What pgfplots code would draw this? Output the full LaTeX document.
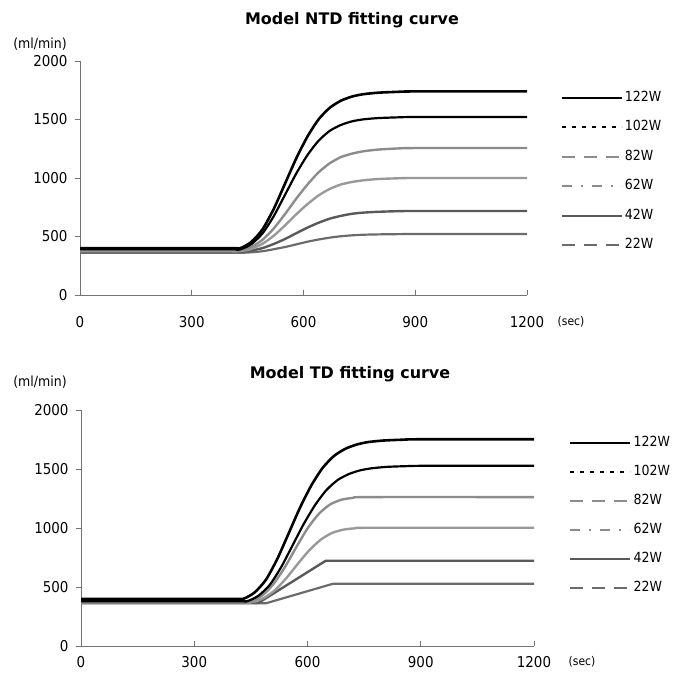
\documentclass[border=0pt]{standalone}
\usepackage{fontspec}
\setmainfont{DejaVu Sans Condensed}
\newfontfamily\titlefont{DejaVu Sans}
\usepackage{pgfplots}
\pgfplotsset{compat=1.18}
\pgfplotsset{
  base/.style={
    scale only axis,
    xmin=0, xmax=1200, ymin=0, ymax=2000,
    axis x line*=bottom, axis y line*=left,
    axis line style={black!55, line width=0.7pt},
    xtick={0,300,...,1200}, ytick={0,500,...,2000},
    xtick align=inside, ytick align=outside,
    major tick length=5bp,
    tick style={black!55, line width=0.7pt},
    /pgf/number format/assume math mode=true,
    /pgf/number format/1000 sep={},
    tick label style={font=\fontsize{15}{18}\selectfont},
    yticklabel style={xshift=-4bp},
    legend cell align=left,
    legend style={draw=none, fill=none, inner sep=0pt, column sep=0pt, row sep=16.5bp,
      font=\fontsize{14}{16}\selectfont,
      nodes={inner xsep=2bp, inner ysep=0pt, text height=10bp, text depth=3bp}},
    legend image code/.code={\draw[#1] (0bp,0bp) -- (60bp,0bp);},
    clip=false,
  },
  s122/.style={black, line width=2.6pt},
  s102/.style={black, line width=2.2pt},
  s82/.style={black!45, line width=2.4pt},
  s62/.style={black!40, line width=2.4pt},
  s42/.style={black!65, line width=2.4pt},
  s22/.style={black!58, line width=2.2pt},
  l122/.style={black, line width=2.6pt},
  l102/.style={black, line width=2.2pt, dash pattern=on 4bp off 6bp},
  l82/.style={black!45, line width=2pt, dash pattern=on 13bp off 9bp},
  l62/.style={black!45, line width=2pt, dash pattern=on 10bp off 9bp on 2bp off 9bp},
  l42/.style={black!65, line width=2pt},
  l22/.style={black!58, line width=2pt, dash pattern=on 13bp off 9bp},
}
\begin{document}
\begin{tikzpicture}
\useasboundingbox (0,0) rectangle (675bp,678bp);
% ---------------- Top: NTD ----------------
\begin{axis}[base, width=447bp, height=234bp, at={(80bp,383bp)}, anchor=south west,
  xticklabel style={yshift=-18bp},
  legend style={at={(1.074,0.871)}, anchor=north west}]
\addplot[s22, smooth, tension=0.4, forget plot] coordinates {(0,360) (400,360) (430,360) (460,365) (490,374) (520,391) (550,410) (580,432) (610,455) (640,474) (670,490) (700,502) (730,510) (760,515) (800,518) (850,520) (900,521) (1200,521)};
\addplot[s42, smooth, tension=0.4, forget plot] coordinates {(0,370) (400,370) (430,370) (460,380) (490,401) (520,436) (550,478) (580,527) (610,575) (640,617) (670,652) (700,676) (730,694) (760,704) (800,711) (850,716) (900,718) (1200,718)};
\addplot[s62, smooth, tension=0.4, forget plot] coordinates {(0,375) (400,375) (430,375) (460,394) (490,438) (520,506) (550,594) (580,688) (610,775) (640,850) (670,906) (700,944) (730,966) (760,980) (800,991) (850,997) (900,1000) (1200,1000)};
\addplot[s82, smooth, tension=0.4, forget plot] coordinates {(0,385) (400,385) (430,385) (460,411) (490,472) (520,568) (550,690) (580,821) (610,942) (640,1047) (670,1125) (700,1178) (730,1208) (760,1228) (800,1243) (850,1252) (900,1256) (1200,1256)};
\addplot[s102, smooth, tension=0.4, forget plot] coordinates {(0,390) (400,390) (430,390) (460,435) (490,526) (520,673) (550,854) (580,1035) (610,1193) (640,1317) (670,1402) (700,1453) (730,1484) (760,1501) (800,1512) (850,1518) (900,1521) (1200,1521)};
\addplot[s122, smooth, tension=0.4, forget plot] coordinates {(0,400) (400,400) (430,400) (460,454) (490,561) (520,735) (550,949) (580,1164) (610,1351) (640,1499) (670,1599) (700,1660) (730,1696) (760,1716) (800,1729) (850,1736) (900,1740) (1200,1740)};
\addlegendimage{l122}\addlegendentry{122W}
\addlegendimage{l102}\addlegendentry{102W}
\addlegendimage{l82}\addlegendentry{82W}
\addlegendimage{l62}\addlegendentry{62W}
\addlegendimage{l42}\addlegendentry{42W}
\addlegendimage{l22}\addlegendentry{22W}
\end{axis}
% ---------------- Bottom: TD ----------------
\begin{axis}[base, width=453bp, height=236bp, at={(81bp,32bp)}, anchor=south west,
  xticklabel style={yshift=-7bp},
  legend style={at={(1.077,0.888)}, anchor=north west, row sep=16bp}]
\addplot[s22, forget plot] coordinates {(0,362) (490,362) (668,528) (1200,528)};
\addplot[s42, forget plot] coordinates {(0,365) (470,365) (648,722) (1200,722)};
\addplot[s62, smooth, tension=0.4, forget plot] coordinates {(0,370) (420,370) (450,370) (485,408) (515,477) (545,579) (575,699) (605,812) (635,901) (665,958) (695,986) (725,997) (765,1002) (1200,1002)};
\addplot[s82, smooth, tension=0.4, forget plot] coordinates {(0,375) (420,375) (445,375) (480,428) (510,526) (540,668) (570,836) (600,996) (630,1120) (660,1200) (690,1240) (720,1255) (760,1262) (1200,1262)};
\addplot[s102, smooth, tension=0.4, forget plot] coordinates {(0,380) (410,380) (440,380) (470,426) (500,518) (530,667) (560,850) (590,1034) (620,1194) (650,1321) (680,1407) (710,1458) (740,1489) (770,1506) (810,1518) (860,1524) (910,1527) (1200,1527)};
\addplot[s122, smooth, tension=0.4, forget plot] coordinates {(0,400) (400,400) (430,400) (460,454) (490,562) (520,738) (550,954) (580,1171) (610,1360) (640,1509) (670,1610) (700,1671) (730,1707) (760,1728) (800,1741) (850,1748) (900,1752) (1200,1752)};
\addlegendimage{l122}\addlegendentry{122W}
\addlegendimage{l102}\addlegendentry{102W}
\addlegendimage{l82}\addlegendentry{82W}
\addlegendimage{l62}\addlegendentry{62W}
\addlegendimage{l42}\addlegendentry{42W}
\addlegendimage{l22}\addlegendentry{22W}
\end{axis}
% ---------------- Titles and unit labels ----------------
\node[font=\titlefont\bfseries\fontsize{16}{19}\selectfont] at (352bp,658bp) {Model NTD fitting curve};
\node[font=\titlefont\bfseries\fontsize{16}{19}\selectfont] at (350bp,304bp) {Model TD fitting curve};
\node[font=\fontsize{14}{16}\selectfont] at (40bp,634bp) {(ml/min)};
\node[font=\fontsize{14}{16}\selectfont] at (40bp,296bp) {(ml/min)};
\node[font=\fontsize{12}{14}\selectfont] at (571bp,356bp) {(sec)};
\node[font=\fontsize{12}{14}\selectfont] at (582bp,16bp) {(sec)};
\end{tikzpicture}
\end{document}
